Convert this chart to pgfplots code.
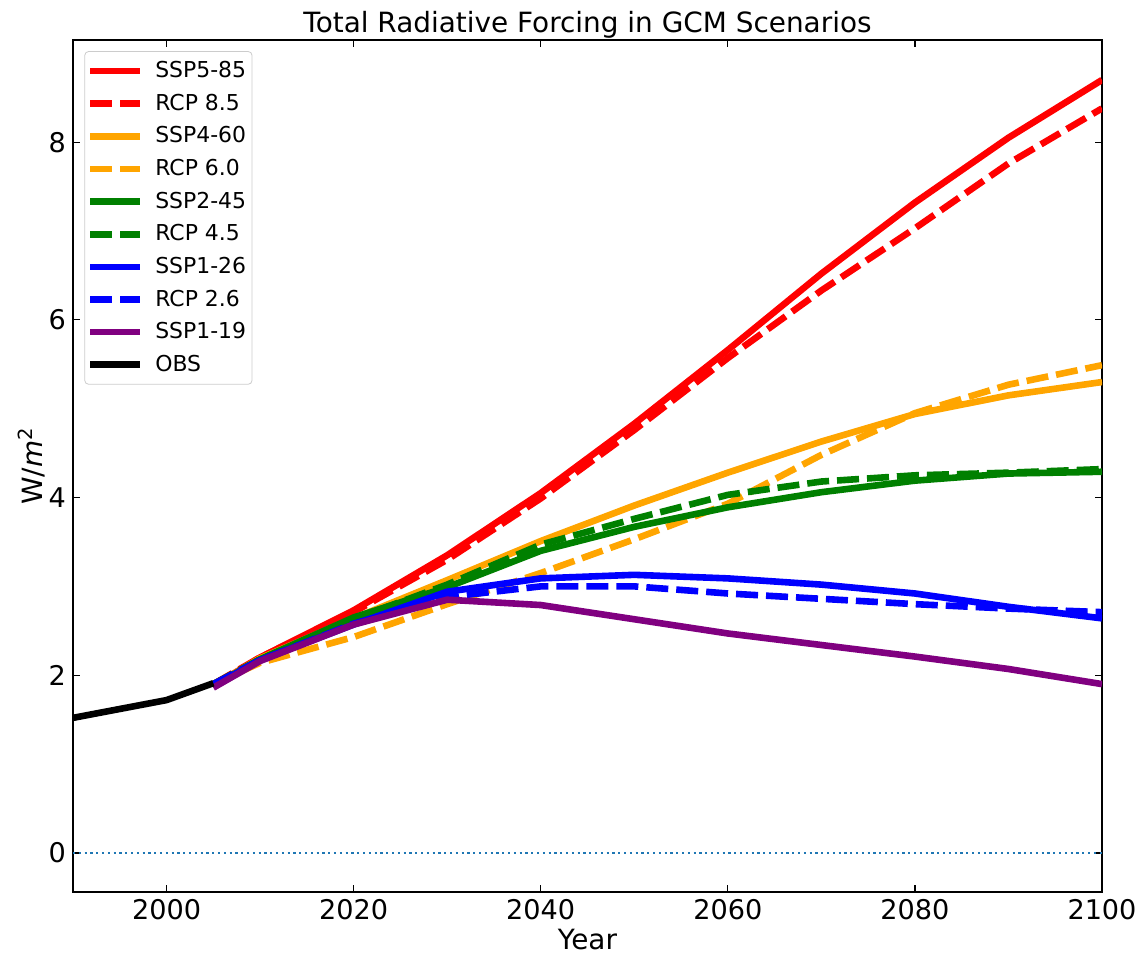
\documentclass[border=0pt]{standalone}
\usepackage{fontspec}
\setmainfont{DejaVu Sans}
\usepackage{pgfplots}
\pgfplotsset{compat=1.18}

\definecolor{cred}{HTML}{FF0000}
\definecolor{corange}{HTML}{FFA500}
\definecolor{cgreen}{HTML}{008000}
\definecolor{cblue}{HTML}{0000FF}
\definecolor{cpurple}{HTML}{800080}
\definecolor{tabblue}{HTML}{1F77B4}

\begin{document}
\begin{tikzpicture}
\begin{axis}[
  name=ax,
  scale only axis,
  width=514.5bp, height=426bp,
  xmin=1990, xmax=2100, ymin=-0.44, ymax=9.15,
  xtick={2000,2020,...,2100}, ytick={0,2,...,8},
  tick align=inside,
  xtick pos=both, ytick pos=both,
  major tick length=3.5bp,
  tick style={black, line width=0.6bp},
  axis line style={line width=0.8bp},
  /pgf/number format/assume math mode=true,
  /pgf/number format/1000 sep={},
  tick label style={font=\fontsize{13.6}{15}\selectfont},
  xlabel={Year}, ylabel={W/\textit{m}\textsuperscript{2}},
  label style={font=\fontsize{14}{16}\selectfont},
  xlabel style={yshift=2bp},
  ylabel shift=-5bp,
  title={Total Radiative Forcing in GCM Scenarios},
  title style={font=\fontsize{14}{16}\selectfont, at={(0.5,1)}, anchor=south, yshift=-8.5bp},
  legend style={at={(0.011,0.987)}, anchor=north west, draw=black!20, rounded corners=2bp,
    font=\fontsize{11}{13}\selectfont, row sep=2.7bp, inner xsep=1bp, inner ysep=3bp},
  legend cell align=left,
  legend image code/.code={\draw[#1] (0bp,0bp) -- (25bp,0bp); \path (29bp,0bp);},
  every axis plot/.append style={line width=3.3bp, line join=round},
  dashpat/.style={dash pattern=on 11bp off 4bp},
]

% zero reference line
\addplot[forget plot, color=tabblue, line width=1.1bp, dash pattern=on 1.1bp off 1.8bp] coordinates {(1990,0) (2100,0)};

% SSP5-85
\addplot[cred] coordinates {(2005,1.88) (2010,2.20) (2020,2.73) (2030,3.35) (2040,4.05) (2050,4.83) (2060,5.66) (2070,6.52) (2080,7.32) (2090,8.05) (2100,8.70)};
\addlegendentry{SSP5-85}
% RCP 8.5
\addplot[cred, dashpat] coordinates {(2005,1.90) (2010,2.20) (2020,2.71) (2030,3.30) (2040,3.99) (2050,4.76) (2060,5.57) (2070,6.33) (2080,7.03) (2090,7.76) (2100,8.38)};
\addlegendentry{RCP 8.5}
% SSP4-60
\addplot[corange] coordinates {(2005,1.88) (2010,2.19) (2020,2.64) (2030,3.07) (2040,3.51) (2050,3.91) (2060,4.28) (2070,4.63) (2080,4.94) (2090,5.15) (2100,5.30)};
\addlegendentry{SSP4-60}
% RCP 6.0
\addplot[corange, dashpat] coordinates {(2005,1.90) (2010,2.14) (2020,2.43) (2030,2.80) (2040,3.15) (2050,3.53) (2060,3.93) (2070,4.48) (2080,4.95) (2090,5.27) (2100,5.49)};
\addlegendentry{RCP 6.0}
% SSP2-45
\addplot[cgreen] coordinates {(2005,1.88) (2010,2.18) (2020,2.65) (2030,2.99) (2040,3.40) (2050,3.67) (2060,3.89) (2070,4.06) (2080,4.19) (2090,4.27) (2100,4.29)};
\addlegendentry{SSP2-45}
% RCP 4.5
\addplot[cgreen, dashpat] coordinates {(2005,1.90) (2010,2.18) (2020,2.63) (2030,3.02) (2040,3.47) (2050,3.76) (2060,4.03) (2070,4.18) (2080,4.25) (2090,4.28) (2100,4.32)};
\addlegendentry{RCP 4.5}
% SSP1-26
\addplot[cblue] coordinates {(2005,1.88) (2010,2.17) (2020,2.57) (2030,2.94) (2040,3.09) (2050,3.13) (2060,3.09) (2070,3.02) (2080,2.92) (2090,2.77) (2100,2.64)};
\addlegendentry{SSP1-26}
% RCP 2.6
\addplot[cblue, dashpat] coordinates {(2005,1.90) (2010,2.17) (2020,2.58) (2030,2.88) (2040,3.00) (2050,3.00) (2060,2.92) (2070,2.86) (2080,2.80) (2090,2.75) (2100,2.71)};
\addlegendentry{RCP 2.6}
% SSP1-19
\addplot[cpurple] coordinates {(2005,1.86) (2010,2.16) (2020,2.57) (2030,2.85) (2040,2.79) (2050,2.63) (2060,2.47) (2070,2.34) (2080,2.21) (2090,2.07) (2100,1.90)};
\addlegendentry{SSP1-19}
% observations
\addplot[black] coordinates {(1990,1.52) (2000,1.72) (2005,1.91)};
\addlegendentry{OBS}
\end{axis}
\pgfresetboundingbox
\path ([shift={(-36.5bp,-32bp)}]ax.south west) rectangle ([shift={(18.5bp,20bp)}]ax.north east);
\end{tikzpicture}
\end{document}
